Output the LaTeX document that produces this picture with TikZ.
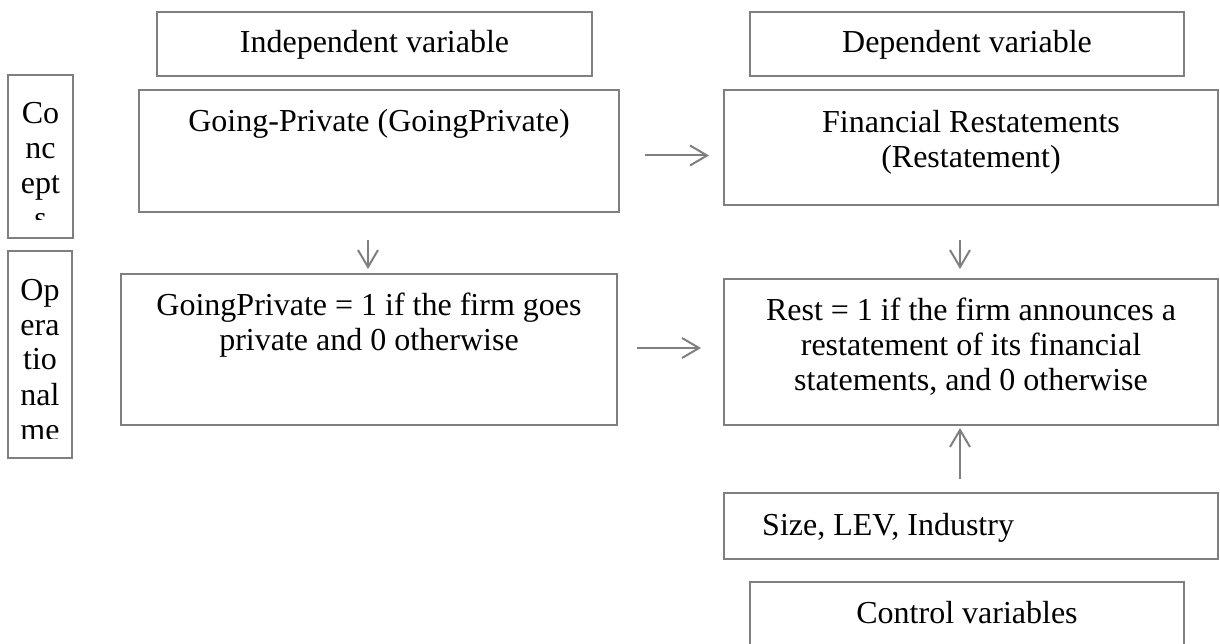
\documentclass[tikz,border=0pt]{standalone}
\usepackage{fontspec}
\setmainfont{Liberation Serif}
\usetikzlibrary{arrows.meta}
\definecolor{lg}{HTML}{7F7F7F}
\tikzset{
  bx/.style={draw=lg, line width=2pt, inner sep=0pt, fill=none},
  txt/.style={inner sep=0pt, anchor=base, text=black, font=\fontsize{32}{35}\selectfont},
  arr/.style={draw=lg, line width=2pt, -{Straight Barb[length=17pt,width=20pt,line width=2pt]}}
}
\newcommand{\pb}[2]{\parbox[t]{#1pt}{\centering #2}}
\begin{document}
\begin{tikzpicture}[x=1pt,y=-1pt]
\clip (0,0) rectangle (1220,644);
\useasboundingbox (0,0) rectangle (1220,644);
% boxes
\node[bx, minimum width=435pt, minimum height=64pt] (ind) at (374.5,44) {};
\node[bx, minimum width=434pt, minimum height=64pt] (dep) at (967,44) {};
\node[bx, minimum width=65pt, minimum height=163pt] (con) at (40.5,156.5) {};
\node[bx, minimum width=64pt, minimum height=207pt] (op) at (40,354.5) {};
\node[bx, minimum width=480pt, minimum height=122pt] (gp) at (379,151) {};
\node[bx, minimum width=494pt, minimum height=115pt] (fr) at (971,147.5) {};
\node[bx, minimum width=496pt, minimum height=151pt] (gp1) at (369,349.5) {};
\node[bx, minimum width=494pt, minimum height=146pt] (rest) at (971,352) {};
\node[bx, minimum width=494pt, minimum height=66pt] (size) at (971,526) {};
\node[bx, minimum width=434pt, minimum height=88pt] (ctrl) at (967,626) {};
% texts
\node[txt] (tind) at (374.5,53) {Independent variable};
\node[txt] (tdep) at (967,53) {Dependent variable};
\begin{scope}
\clip (9,76) rectangle (72,220);
\node[txt] (tcon) at (40.5,124) {\pb{60}{Co\\nc\\ept\\s}};
\end{scope}
\begin{scope}
\clip (9,252) rectangle (71,438);
\node[txt] (top) at (40,300) {\pb{60}{Op\\era\\tio\\nal\\me}};
\end{scope}
\node[txt] (tgp) at (379,132) {Going-Private (GoingPrivate)};
\node[txt] (tfr) at (971,133) {\pb{480}{Financial Restatements\\(Restatement)}};
\node[txt] (tgp1) at (369,315) {\pb{480}{GoingPrivate = 1 if the firm goes\\private and 0 otherwise}};
\node[txt] (trest) at (971,320) {\pb{480}{Rest = 1 if the firm announces a\\restatement of its financial\\statements, and 0 otherwise}};
\node[txt, anchor=base west] (tsize) at (762,535) {Size, LEV, Industry};
\node[txt] (tctrl) at (967,623) {Control variables};
% arrow end points
\coordinate (a1s) at (645,155.5);
\coordinate (a1e) at (709,155.5);
\coordinate (a2s) at (637,348);
\coordinate (a2e) at (701,348);
\coordinate (d1s) at (368,240);
\coordinate (d1e) at (368,269);
\coordinate (d2s) at (960,240);
\coordinate (d2e) at (960,269);
\coordinate (us) at (960,479);
\coordinate (ue) at (960,428);
\draw[arr] (a1s) -- (a1e);
\draw[arr] (a2s) -- (a2e);
\draw[arr] (d1s) -- (d1e);
\draw[arr] (d2s) -- (d2e);
\draw[arr] (us) -- (ue);
\end{tikzpicture}
\end{document}
